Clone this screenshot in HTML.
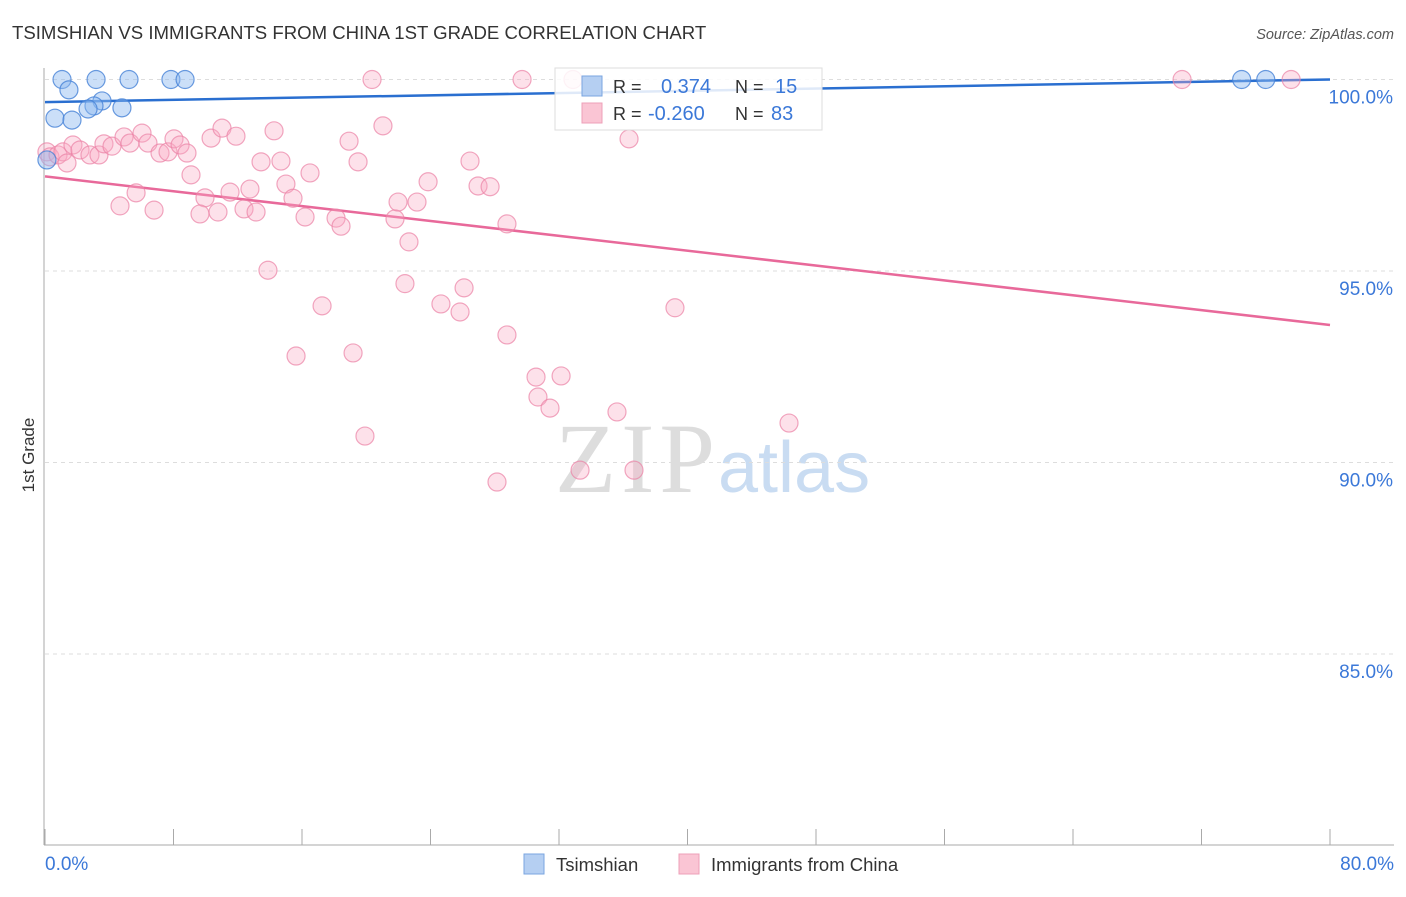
<!DOCTYPE html>
<html><head><meta charset="utf-8"><style>
body{margin:0;background:#fff;font-family:"Liberation Sans",sans-serif}
svg text{font-family:"Liberation Sans",sans-serif}
</style></head><body>
<svg id="c" width="1406" height="892" xmlns="http://www.w3.org/2000/svg">
<text x="12" y="39" font-size="18.6" fill="#333">TSIMSHIAN VS IMMIGRANTS FROM CHINA 1ST GRADE CORRELATION CHART</text>
<text x="1394" y="39" font-size="14.5" fill="#555" font-style="italic" text-anchor="end">Source: ZipAtlas.com</text>
<text transform="translate(34,455) rotate(-90)" font-size="17" fill="#333" text-anchor="middle">1st Grade</text>
<text x="555" y="492" font-size="100" fill="#ddd" style="font-family:'Liberation Serif',serif" textLength="160">ZIP</text>
<text x="718" y="492" font-size="72" fill="#c9dcf2">atlas</text>
<g id="grid"></g><g id="axes"></g><g id="trend"></g><g id="pts"></g>
<g>
<rect x="555" y="68" width="267" height="62" fill="#fff" fill-opacity="0.85" stroke="#ddd"/>
<rect x="582" y="76" width="20" height="20" fill="#b5cff2" stroke="#7aa6e0"/>
<rect x="582" y="103" width="20" height="20" fill="#fac5d4" stroke="#eea0b8"/>
<text x="613" y="93" font-size="18" fill="#333">R = </text><text x="661" y="93" font-size="20" fill="#3b78d8">0.374</text>
<text x="735" y="93" font-size="18" fill="#333">N = </text><text x="775" y="93" font-size="20" fill="#3b78d8">15</text>
<text x="613" y="120" font-size="18" fill="#333">R = </text><text x="648" y="120" font-size="20" fill="#3b78d8">-0.260</text>
<text x="735" y="120" font-size="18" fill="#333">N = </text><text x="771" y="120" font-size="20" fill="#3b78d8">83</text>
</g>
<g>
<rect x="524" y="854" width="20" height="20" fill="#b5cff2" stroke="#7aa6e0"/>
<text x="556" y="871" font-size="18.5" fill="#333">Tsimshian</text>
<rect x="679" y="854" width="20" height="20" fill="#fac5d4" stroke="#eea0b8"/>
<text x="711" y="871" font-size="18.5" fill="#333">Immigrants from China</text>
</g>
</svg>
<script>
const yTicks=[100,95,90,85];
const yTickLabels=["100.0%","95.0%","90.0%","85.0%"];
const xTickVals=[0,8,16,24,32,40,48,56,64,72,80];
const xEndLabels=["0.0%","80.0%"];
const blueX=[1.06,3.18,5.23,7.84,8.72,1.49,3.55,3.05,2.68,4.79,0.62,1.68,74.5,76.0,0.12];
const blueY=[100,100,100,100,100,99.73,99.44,99.31,99.23,99.26,98.99,98.94,100,100,97.9];
const pinkX=[20.36,29.70,32.87,70.79,77.58,0.12,0.31,0.81,1.12,1.37,1.74,2.18,2.80,3.36,3.67,4.17,4.92,5.29,6.04,6.41,7.16,7.66,8.03,8.41,8.84,9.09,9.96,10.34,11.02,11.89,9.65,10.77,4.67,6.79,5.67,11.52,12.76,12.39,13.14,13.45,14.26,14.69,13.88,15.00,15.44,16.19,16.50,15.63,17.25,18.12,18.43,18.93,19.49,19.18,19.92,21.04,21.79,21.98,22.66,22.41,23.16,23.85,24.65,25.84,26.09,26.46,26.96,27.71,28.76,28.76,28.14,30.57,32.13,30.69,31.44,33.31,35.61,36.36,36.67,39.22,46.32];
const pinkY=[100,100,100,100,100,98.11,97.98,98.03,98.11,97.82,98.29,98.16,98.03,98.03,98.32,98.26,98.50,98.34,98.60,98.34,98.08,98.11,98.45,98.29,98.08,97.51,96.91,98.47,98.73,98.52,96.49,96.54,96.70,96.59,97.04,97.06,97.14,96.62,96.54,97.85,98.66,97.87,95.02,97.27,96.90,96.41,97.56,92.78,94.09,96.38,96.17,98.39,97.85,92.86,90.69,98.79,96.36,96.80,95.76,94.67,96.80,97.33,94.14,93.93,94.56,97.87,97.22,97.20,96.23,93.33,89.49,92.23,92.26,91.71,91.42,89.80,91.32,98.45,89.80,94.04,91.03];
const blueTrend=[[0,99.41],[80,100.0]];
const pinkTrend=[[0,97.47],[80,93.59]];
const X=v=>45+v/80*1285, Y=v=>79.5+(100-v)*38.3;
const NS="http://www.w3.org/2000/svg";
function mk(p,t,a){const e=document.createElementNS(NS,t);for(const k in a)e.setAttribute(k,a[k]);document.getElementById(p).appendChild(e);return e;}
yTicks.forEach((v,i)=>{
 const l=mk('grid','line',{x1:45,x2:1394,y1:Y(v),y2:Y(v),stroke:'#ddd','stroke-dasharray':'4,4'});
 
 
 const t=mk('grid','text',{x:1393,y:Y(v)+24,'font-size':19,fill:'#3b78d8','text-anchor':'end'});
 t.textContent=yTickLabels[i];
 
 
});
const ax=mk('axes','line',{x1:44,x2:44,y1:68,y2:845,stroke:'#aaa'});


const bx=mk('axes','line',{x1:44,x2:1394,y1:845,y2:845,stroke:'#aaa'});


xTickVals.forEach(v=>{
 const t=mk('axes','line',{x1:X(v),x2:X(v),y1:829,y2:845,stroke:'#aaa'});
 
 
});
[[0,'start',45],[80,'end',1394]].forEach((d,i)=>{
 const t=mk('axes','text',{x:d[2],y:870,'font-size':19,fill:'#3b78d8','text-anchor':d[1]});
 t.textContent=xEndLabels[i];
 
 
});
function dots(xs,ys,fill,stroke,name){xs.forEach((x,i)=>{
 const c=mk('pts','circle',{cx:X(x),cy:Y(ys[i]),r:9,fill:fill,stroke:stroke,'stroke-width':1.2});
 
 
});}
dots(pinkX,pinkY,'rgba(248,170,195,0.35)','rgba(235,130,165,0.7)','china-point');
dots(blueX,blueY,'rgba(140,185,240,0.45)','rgba(70,130,215,0.8)','tsimshian-point');
const bt=mk('trend','line',{x1:X(blueTrend[0][0]),y1:Y(blueTrend[0][1]),x2:X(blueTrend[1][0]),y2:Y(blueTrend[1][1]),stroke:'#2a6fd0','stroke-width':2.5});


const pt=mk('trend','line',{x1:X(pinkTrend[0][0]),y1:Y(pinkTrend[0][1]),x2:X(pinkTrend[1][0]),y2:Y(pinkTrend[1][1]),stroke:'#e8699a','stroke-width':2.5});


</script>
</body></html>
